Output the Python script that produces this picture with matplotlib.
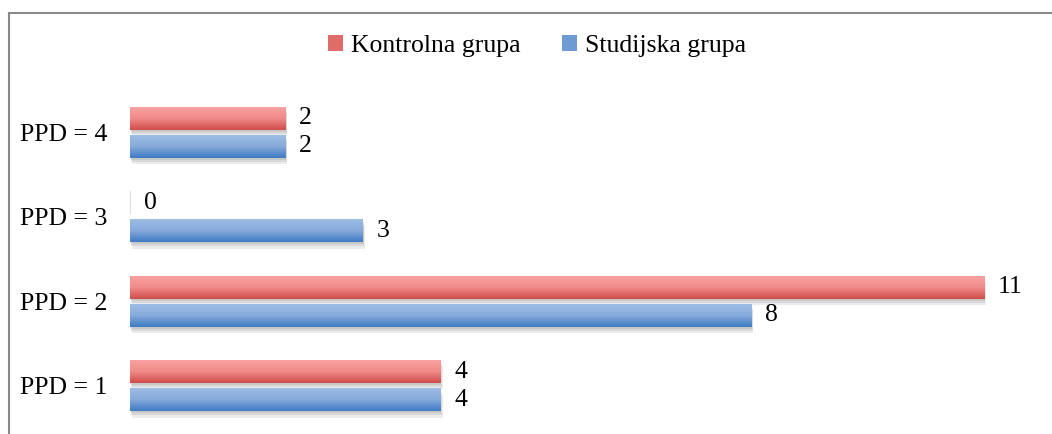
import numpy as np
import matplotlib
matplotlib.use("Agg")
import matplotlib.pyplot as plt
from matplotlib.patches import Patch
from matplotlib.lines import Line2D
from matplotlib.colors import LinearSegmentedColormap
import matplotlib.patheffects as pe

categories = ["PPD = 1", "PPD = 2", "PPD = 3", "PPD = 4"]
kontrolna = [4, 11, 0, 2]
studijska = [4, 8, 3, 2]
series_names = ["Kontrolna grupa", "Studijska grupa"]

plt.rcParams['font.family'] = ['Liberation Serif', 'DejaVu Serif']

W, H = 1052, 434
FS = 18.5
fig = plt.figure(figsize=(W / 100, H / 100), dpi=100)
ax = fig.add_axes([130 / W, 6 / H, (1040 - 130) / W, (428 - 90) / H])

red_cmap = LinearSegmentedColormap.from_list("r", ["#F7A2A1", "#F08A89", "#CF4C49"])
blue_cmap = LinearSegmentedColormap.from_list("b", ["#9CBDE4", "#86AADB", "#3E7BC3"])

y = np.arange(len(categories))
h = 0.27
off = 0.167

grad = np.linspace(0, 1, 64).reshape(-1, 1)

def draw(vals, ypos, cmap, base):
    bars = ax.barh(ypos, vals, height=h, color=base, edgecolor='none', zorder=2)
    for b, v in zip(bars, vals):
        if v == 0:
            b.set_edgecolor('#d6d6d6')
            b.set_linewidth(1.2)
            continue
        b.set_path_effects([
            pe.SimplePatchShadow(offset=(1.5, -4.5), shadow_rgbFace='#999999', alpha=0.18),
            pe.SimplePatchShadow(offset=(1.0, -3.0), shadow_rgbFace='#999999', alpha=0.22),
            pe.SimplePatchShadow(offset=(0.5, -1.5), shadow_rgbFace='#999999', alpha=0.25),
            pe.Normal()])
        x0, y0, w, hh = b.get_x(), b.get_y(), b.get_width(), b.get_height()
        im = ax.imshow(grad, cmap=cmap, extent=(x0, x0 + w, y0, y0 + hh), origin='upper',
                       aspect='auto', zorder=3, interpolation='bilinear')
        im.set_clip_path(b)
    for b, v in zip(bars, vals):
        ax.annotate(str(v), (b.get_width(), b.get_y() + b.get_height() / 2),
                    xytext=(14, 0), textcoords='offset pixels', ha='left', va='center',
                    fontsize=FS, color='black')
    return bars

draw(kontrolna, y + off, red_cmap, '#E06C6A')
draw(studijska, y - off, blue_cmap, '#6E9BD2')

ax.set_xlim(0, 11.72)
ax.set_ylim(-0.5, 3.5)
ax.set_yticks(y)
ax.set_yticklabels(categories, fontsize=FS)
ax.tick_params(axis='y', length=0, pad=16)
ax.set_xticks([])
for s in ax.spines.values():
    s.set_visible(False)

handles = [Patch(facecolor='#E06C6A', edgecolor='none'), Patch(facecolor='#6E9BD2', edgecolor='none')]
fig.legend(handles, series_names, loc='center', bbox_to_anchor=(537 / W, 1 - 46 / H), ncol=2,
           frameon=False, fontsize=FS, handlelength=0.6, handleheight=0.6,
           handletextpad=0.3, columnspacing=1.6)

fig.add_artist(Line2D([9 / W, 1.0], [1 - 13 / H, 1 - 13 / H], color='#8a8a8a', lw=1.5,
                      transform=fig.transFigure))
fig.add_artist(Line2D([9 / W, 9 / W], [1 - 13 / H, 0], color='#8a8a8a', lw=1.5,
                      transform=fig.transFigure))

fig.savefig("out.png", dpi=100)
